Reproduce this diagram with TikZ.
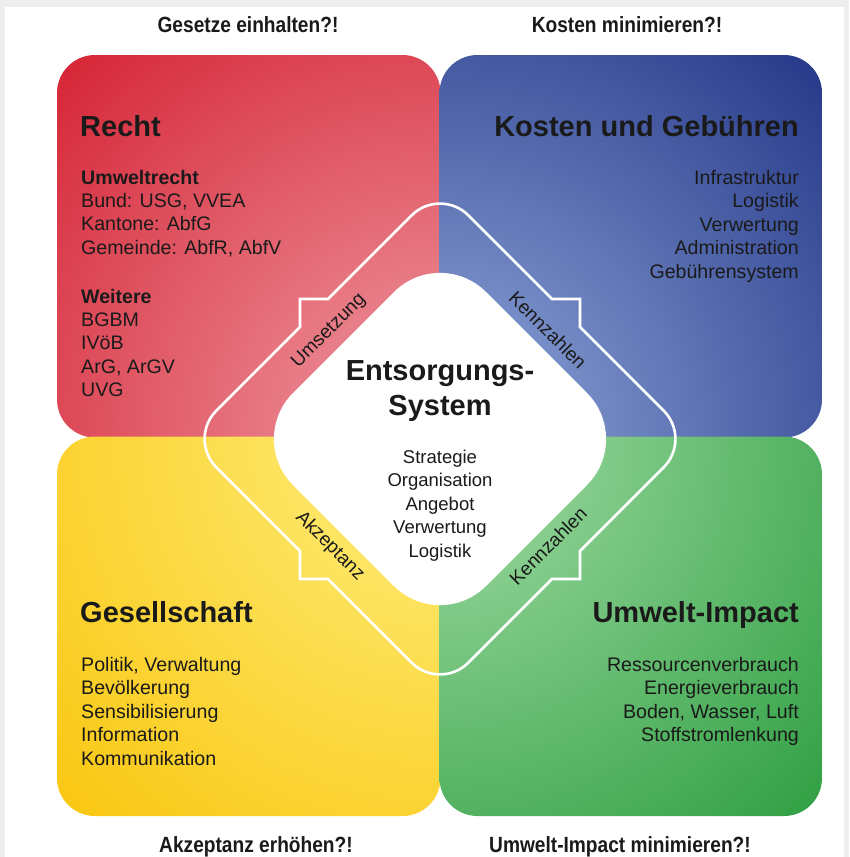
\documentclass[tikz,border=0pt]{standalone}
\usepackage{fontspec}
\setmainfont{Liberation Sans}
\newfontfamily\condfont[FakeStretch=0.87]{Liberation Sans}
\usetikzlibrary{calc}

\definecolor{pagegray}{RGB}{238,238,238}
\definecolor{inkdark}{RGB}{26,26,26}
\definecolor{redOut}{RGB}{212,30,48}
\definecolor{redIn}{RGB}{239,158,165}
\definecolor{blueOut}{RGB}{30,50,132}
\definecolor{blueIn}{RGB}{147,170,220}
\definecolor{yellowOut}{RGB}{249,196,10}
\definecolor{yellowIn}{RGB}{254,239,127}
\definecolor{greenOut}{RGB}{40,155,60}
\definecolor{greenIn}{RGB}{165,222,168}

\tikzset{
  txt/.style={inner sep=0pt, text=inkdark},
  head/.style={txt, font=\fontsize{29}{34}\bfseries},
  bodyb/.style={txt, font=\fontsize{19.6}{23.5}\bfseries},
  body/.style={txt, font=\fontsize{19.6}{23.5}\selectfont},
  band/.style={txt, font=\fontsize{19}{22}\selectfont},
  core/.style={txt, font=\fontsize{18.5}{23}\selectfont},
  coretitle/.style={txt, font=\fontsize{29}{34}\bfseries},
  question/.style={txt, font=\condfont\fontsize{22}{26}\bfseries},
  frame/.style={draw=white, line width=2.6pt, line join=miter},
}

% one coloured field: rounded rectangle, lighter towards the centre
\newcommand{\quadrant}[6]{%
  \begin{scope}
    \clip[rounded corners=38pt] (#1,#2) rectangle (#3,#4);
    \shade[inner color=#5, outer color=#6] (440,439) circle (570pt);
  \end{scope}}

\begin{document}
\begin{tikzpicture}[x=1pt,y=-1pt]
  \useasboundingbox (0,0) rectangle (849,857);
  \fill[pagegray] (0,0) rectangle (849,857);
  \fill[white] (5,7) rectangle (844,857);

  % four coloured fields
  \quadrant{57}{55}{440.5}{437.5}{redIn}{redOut}
  \quadrant{439.5}{55}{822}{437.5}{blueIn}{blueOut}
  \quadrant{57}{436.5}{440.5}{816}{yellowIn}{yellowOut}
  \quadrant{439.5}{436.5}{822}{816}{greenIn}{greenOut}

  % central diamond and its surrounding frame with the four step marks
  \begin{scope}[shift={(440,439)}]
    \fill[white, rounded corners=65pt] (0,-193) -- (193,0) -- (0,193) -- (-193,0) -- cycle;
    \draw[frame]
      (-28.3,-223.7) .. controls (-12.7,-239.3) and (12.7,-239.3) .. (28.3,-223.7)
      -- (112,-140) -- (140,-140) -- (140,-112)
      -- (223.7,-28.3) .. controls (239.3,-12.7) and (239.3,12.7) .. (223.7,28.3)
      -- (140,112) -- (140,140) -- (112,140)
      -- (28.3,223.7) .. controls (12.7,239.3) and (-12.7,239.3) .. (-28.3,223.7)
      -- (-112,140) -- (-140,140) -- (-140,112)
      -- (-223.7,28.3) .. controls (-239.3,12.7) and (-239.3,-12.7) .. (-223.7,-28.3)
      -- (-140,-112) -- (-140,-140) -- (-112,-140)
      -- cycle;
    \node[band, rotate=45]  (umsetzung)  at (-111,-108) {Umsetzung};
    \node[band, rotate=-45] (kennzahlenA) at (108,-109) {Kennzahlen};
    \node[band, rotate=-45] (akzeptanz)  at (-110,107) {Akzeptanz};
    \node[band, rotate=45]  (kennzahlenB) at (108,107) {Kennzahlen};
  \end{scope}

  % centre text
  \node[coretitle, anchor=base] (entsorgung) at (440,380) {Entsorgungs-};
  \node[coretitle, anchor=base] (system) at (440,415) {System};
  \foreach \t [count=\i from 0] in {Strategie,Organisation,Angebot,Verwertung,Logistik}
    \node[core, anchor=base] (core\i) at (440,{463+23.5*\i}) {\t};

  % questions outside the fields
  \node[question, anchor=base] (qRecht) at (248,32) {Gesetze einhalten?!};
  \node[question, anchor=base] (qKosten) at (627,32) {Kosten minimieren?!};
  \node[question, anchor=base] (qGesell) at (256,852) {Akzeptanz erhöhen?!};
  \node[question, anchor=base] (qUmwelt) at (620,852) {Umwelt-Impact minimieren?!};

  % Recht
  \node[head, anchor=base west] (recht) at (80,136) {Recht};
  \node[bodyb, anchor=base west] (umweltrecht) at (81,184) {Umweltrecht};
  \foreach \t [count=\i] in {{Bund: USG, VVEA},{Kantone: AbfG},{Gemeinde: AbfR, AbfV}}
    \node[body, anchor=base west] (rechtA\i) at (81,{184+23.4*\i}) {\t};
  \node[bodyb, anchor=base west] (weitere) at (81,303) {Weitere};
  \foreach \t [count=\i] in {BGBM,IVöB,{ArG, ArGV},UVG}
    \node[body, anchor=base west] (rechtB\i) at (81,{303+23.4*\i}) {\t};

  % Kosten und Gebuehren
  \node[head, anchor=base east] (kosten) at (799,136) {Kosten und Gebühren};
  \foreach \t [count=\i from 0] in {Infrastruktur,Logistik,Verwertung,Administration,Gebührensystem}
    \node[body, anchor=base east] (kostenL\i) at (799,{184+23.5*\i}) {\t};

  % Gesellschaft
  \node[head, anchor=base west] (gesellschaft) at (80,622) {Gesellschaft};
  \foreach \t [count=\i from 0] in {{Politik, Verwaltung},Bevölkerung,Sensibilisierung,Information,Kommunikation}
    \node[body, anchor=base west] (gesL\i) at (81,{671+23.5*\i}) {\t};

  % Umwelt-Impact
  \node[head, anchor=base east] (umwelt) at (799,622) {Umwelt-Impact};
  \foreach \t [count=\i from 0] in {Ressourcenverbrauch,Energieverbrauch,{Boden, Wasser, Luft},Stoffstromlenkung}
    \node[body, anchor=base east] (umwL\i) at (799,{671+23.5*\i}) {\t};
\end{tikzpicture}
\end{document}
